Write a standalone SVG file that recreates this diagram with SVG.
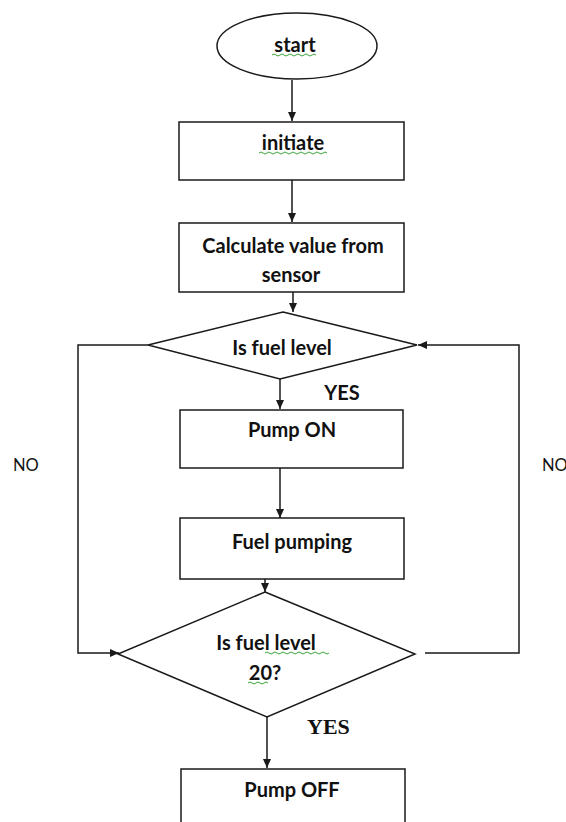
<svg xmlns="http://www.w3.org/2000/svg" width="566" height="822" viewBox="0 0 566 822">
<style>
.s{fill:#fff;stroke:#1a1a1a;stroke-width:1.5}
.c{fill:none;stroke:#1a1a1a;stroke-width:1.5}
.t{font-family:Lato,"Open Sans","Liberation Sans",sans-serif;font-weight:bold;font-size:20px;fill:#111;text-anchor:middle}
.n{font-family:Lato,"Liberation Sans",sans-serif;font-size:16.5px;fill:#111}
.y2{font-family:"Liberation Serif",serif;font-weight:bold;font-size:22px;fill:#111}
.w{fill:none;stroke:#3aa53a;stroke-width:1}
</style>
<defs>
<marker id="a" markerWidth="10" markerHeight="10" refX="9" refY="5" orient="auto" markerUnits="userSpaceOnUse">
<path d="M0,1 L9,5 L0,9 Z" fill="#1a1a1a"/>
</marker>
</defs>
<g id="connectors">
<line class="c" x1="292" y1="80" x2="292" y2="121" marker-end="url(#a)"/>
<line class="c" x1="292" y1="180" x2="292" y2="222" marker-end="url(#a)"/>
<line class="c" x1="293" y1="292" x2="293" y2="312" marker-end="url(#a)"/>
<line class="c" x1="280" y1="379" x2="280" y2="409" marker-end="url(#a)"/>
<line class="c" x1="280" y1="462" x2="280" y2="518" marker-end="url(#a)"/>
<line class="c" x1="265" y1="563" x2="265" y2="592" marker-end="url(#a)"/>
<line class="c" x1="267" y1="717" x2="267" y2="768" marker-end="url(#a)"/>
<polyline class="c" points="148,345 78,345 78,653 119,653" marker-end="url(#a)"/>
<polyline class="c" points="425,653 519,653 519,345 418,345" marker-end="url(#a)"/>
</g>
<g id="start">
<ellipse class="s" cx="297" cy="46" rx="80" ry="33"/>
<text class="t" x="295" y="52">start</text>
<path class="w" d="M272,55 q2,-2 4,0 t4,0 t4,0 t4,0 t4,0 t4,0 t4,0 t4,0 t4,0 t4,0 t4,0"/>
</g>
<g id="initiate">
<rect class="s" x="179" y="122" width="225" height="58"/>
<text class="t" x="293" y="150">initiate</text>
<path class="w" d="M259,153 q2,-2 4,0 t4,0 t4,0 t4,0 t4,0 t4,0 t4,0 t4,0 t4,0 t4,0 t4,0 t4,0 t4,0 t4,0 t4,0 t4,0 t4,0"/>
</g>
<g id="calculate">
<rect class="s" x="179" y="223" width="225" height="69"/>
<text class="t" x="293" y="253">Calculate value from</text>
<text class="t" x="291" y="282">sensor</text>
</g>
<g id="decision1">
<polygon class="s" points="283,312 417,345 280,379 148,345"/>
<text class="t" x="282" y="355">Is fuel level</text>
</g>
<g id="yes1"><text class="t" x="342" y="400">YES</text></g>
<g id="no-left"><text class="n" x="13" y="471">NO</text></g>
<g id="no-right"><text class="n" x="542" y="471">NO</text></g>
<g id="pump-on">
<rect class="s" x="180" y="410" width="223" height="58"/>
<text class="t" x="292" y="437">Pump ON</text>
</g>
<g id="fuel-pumping">
<rect class="s" x="180" y="518" width="224" height="61"/>
<text class="t" x="292" y="549">Fuel pumping</text>
</g>
<g id="decision2">
<polygon class="s" points="265,592 415,654 267,717 118,654"/>
<text class="t" x="266" y="650">Is fuel level</text>
<text class="t" x="265" y="680">20?</text>
<path class="w" d="M265,653 q2,-2 4,0 t4,0 t4,0 t4,0 t4,0 t4,0 t4,0 t4,0 t4,0 t4,0 t4,0 t4,0 t4,0 t4,0 t4,0 t4,0"/>
<path class="w" d="M248,683 q2,-2 4,0 t4,0 t4,0 t4,0 t4,0"/>
</g>
<g id="yes2"><text class="y2" x="307" y="734">YES</text></g>
<g id="pump-off">
<rect class="s" x="181" y="769" width="224" height="60"/>
<text class="t" x="292" y="797">Pump OFF</text>
</g>
</svg>
